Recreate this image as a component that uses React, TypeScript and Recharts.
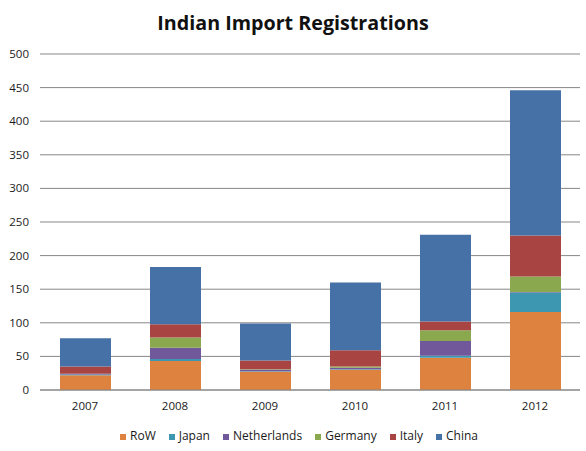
import { BarChart, Bar, XAxis, YAxis, CartesianGrid, Legend } from "recharts";

const years = ["2007", "2008", "2009", "2010", "2011", "2012"];
const row = [22, 43, 27, 30, 48, 116];
const japan = [1, 3, 1, 1, 3, 29];
const netherlands = [1, 17, 2, 2, 22, 1];
const germany = [0, 15, 1, 2, 16, 23];
const italy = [11, 20, 13, 24, 13, 61];
const china = [42, 85, 55, 101, 129, 216];
const yTicks = [0, 50, 100, 150, 200, 250, 300, 350, 400, 450, 500];

const SERIES = [
  { key: "RoW", color: "#de8240" },
  { key: "Japan", color: "#3e97b0" },
  { key: "Netherlands", color: "#71589a" },
  { key: "Germany", color: "#8aa94f" },
  { key: "Italy", color: "#a84543" },
  { key: "China", color: "#4671a6" },
];

const FONT = "'Open Sans', sans-serif";

export default function App() {
  const chartData = years.map((year, i) => ({
    year,
    RoW: row[i],
    Japan: japan[i],
    Netherlands: netherlands[i],
    Germany: germany[i],
    Italy: italy[i],
    China: china[i],
  }));

  // keep legend in stacking order, not alphabetical
  const legendOrder = (item: any) => SERIES.findIndex((s) => s.key === item.value);

  return (
    <div style={{ position: "relative", width: 586, height: 451, background: "#fff", fontFamily: FONT }}>
      <style>{`body{margin:0}`}</style>
      <div
        style={{
          position: "absolute",
          top: 9,
          left: 0,
          width: 586,
          textAlign: "center",
          fontSize: 19.7,
          fontWeight: 700,
          color: "#111",
          lineHeight: "28px",
        }}
      >
        Indian Import Registrations
      </div>
      <BarChart
        width={586}
        height={451}
        data={chartData}
        margin={{ top: 54, right: 6, left: 0, bottom: 21 }}
      >
        <CartesianGrid vertical={false} stroke="#878787" />
        <XAxis
          dataKey="year"
          axisLine={{ stroke: "#878787" }}
          tickLine={false}
          tickMargin={6}
          height={20}
          tick={{ fill: "#1a1a1a", fontSize: 11.5, fontFamily: FONT }}
        />
        <YAxis
          domain={[0, 500]}
          ticks={yTicks}
          width={40}
          axisLine={false}
          tickLine={false}
          tickMargin={5}
          tick={{ fill: "#1a1a1a", fontSize: 11.5, fontFamily: FONT }}
        />
        <Legend
          iconType="square"
          iconSize={6}
          itemSorter={legendOrder}
          wrapperStyle={{ top: 427, left: 25, width: 561, height: 20, fontSize: 12, fontFamily: FONT }}
          formatter={(value) => (
            <span style={{ color: "#1a1a1a", marginRight: 3 }}>{value}</span>
          )}
        />
        {SERIES.map((s) => (
          <Bar
            key={s.key}
            dataKey={s.key}
            stackId="a"
            fill={s.color}
            barSize={51}
            isAnimationActive={false}
          />
        ))}
      </BarChart>
    </div>
  );
}
